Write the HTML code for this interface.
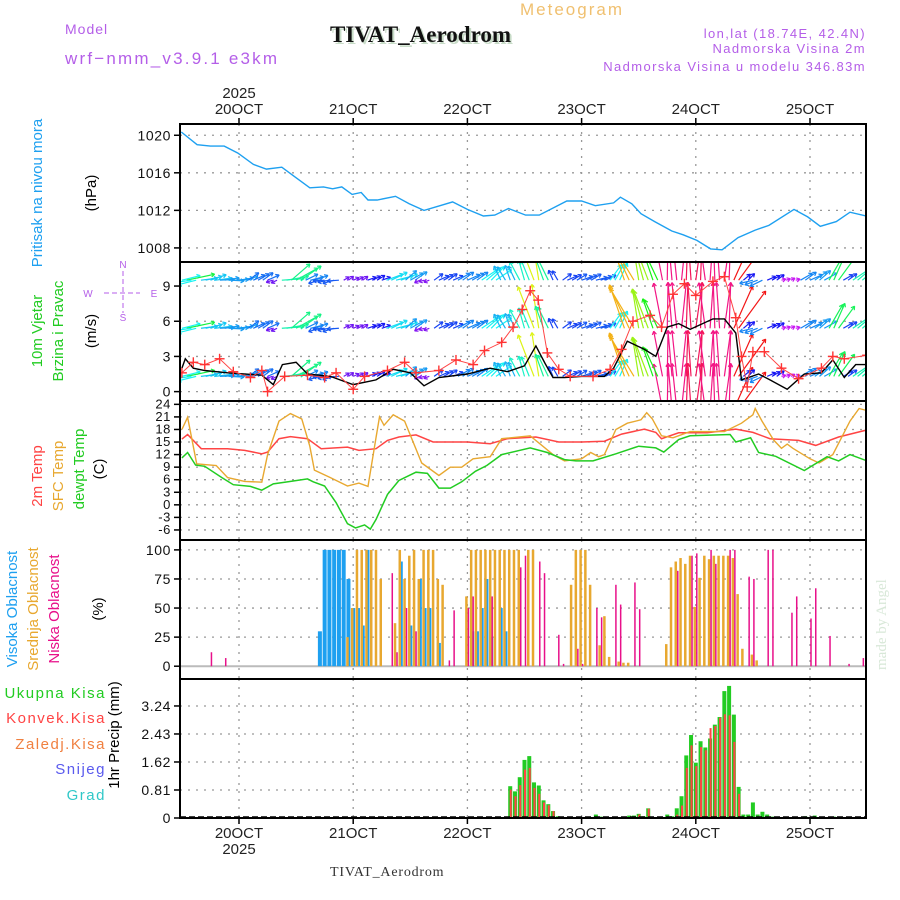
<!DOCTYPE html>
<html><head><meta charset="utf-8"><style>
html,body{margin:0;padding:0;background:#fff;}
svg{display:block;font-family:"Liberation Sans",sans-serif;}
</style></head><body>
<svg id="c" width="900" height="900" viewBox="0 0 900 900">
<text x="65" y="34" font-size="14" fill="#b45ee8" letter-spacing="1">Model</text>
<text x="65" y="64" font-size="17" fill="#b45ee8" letter-spacing="2.2">wrf−nmm_v3.9.1  e3km</text>
<text x="520" y="15" font-size="17" fill="#f0c070" letter-spacing="2">Meteogram</text>
<text x="332" y="44" font-size="23" font-weight="bold" fill="#c8dcc8" font-family="Liberation Serif,serif">TIVAT_Aerodrom</text>
<text x="330" y="42" font-size="23" font-weight="bold" fill="#111" font-family="Liberation Serif,serif">TIVAT_Aerodrom</text>
<text x="866" y="38" font-size="13" fill="#b45ee8" text-anchor="end" letter-spacing="1.4">lon,lat (18.74E, 42.4N)</text>
<text x="866" y="53" font-size="13" fill="#b45ee8" text-anchor="end" letter-spacing="1.4">Nadmorska Visina 2m</text>
<text x="866" y="71" font-size="13" fill="#b45ee8" text-anchor="end" letter-spacing="1.4">Nadmorska Visina u modelu 346.83m</text>
<text x="866" y="650" font-size="15" fill="#d8e8d8" transform="rotate(-90 886 650)" font-family="Liberation Serif,serif">made by Angel</text>
<text x="330" y="876" font-size="14" fill="#333" font-family="Liberation Serif,serif" letter-spacing="0.8">TIVAT_Aerodrom</text>
<g id="g"></g>
</svg>
<script>
// ---------- data ----------
const dayLabels=["20OCT","21OCT","22OCT","23OCT","24OCT","25OCT"];
const presT=[-0.505,-0.367,-0.25,-0.13,-0.01,0.126,0.24,0.375,0.48,0.62,0.74,0.82,0.9,0.99,1.07,1.13,1.21,1.37,1.49,1.62,1.76,1.87,2.0,2.14,2.24,2.36,2.51,2.63,2.87,3.0,3.12,3.28,3.34,3.44,3.52,3.64,3.79,3.89,4.01,4.13,4.23,4.37,4.52,4.64,4.86,4.98,5.09,5.23,5.35,5.49];
const presV=[1020.35,1019.0,1018.85,1018.85,1018.1,1016.9,1016.4,1016.6,1015.65,1014.4,1014.5,1014.3,1014.5,1013.7,1013.9,1013.1,1013.1,1013.5,1012.7,1012.0,1012.5,1012.9,1012.1,1011.4,1011.5,1012.2,1011.5,1011.5,1013.0,1013.0,1012.5,1012.8,1013.4,1012.7,1011.65,1010.8,1009.8,1009.4,1008.8,1007.9,1007.8,1009.1,1009.9,1010.4,1012.1,1011.3,1010.3,1010.8,1011.8,1011.4];
const presTicks=[1008,1012,1016,1020];
const windT=[-0.5,-0.47,-0.4,-0.3,-0.1,0.2,0.3,0.38,0.5,0.6,0.8,1.0,1.2,1.35,1.5,1.62,1.75,2.0,2.2,2.35,2.5,2.6,2.68,2.75,2.85,3.0,3.2,3.28,3.4,3.55,3.65,3.75,3.85,3.95,4.15,4.25,4.35,4.4,4.55,4.65,4.8,4.95,5.1,5.2,5.3,5.4,5.5];
const windSpd=[2.0,2.8,2.0,1.8,1.6,1.4,0.6,2.3,2.5,1.5,1.3,0.6,1.0,1.9,1.6,0.5,1.2,1.5,2.0,1.7,2.2,3.9,2.4,1.2,1.2,1.3,1.3,2.0,4.3,3.6,3.0,5.5,5.8,5.3,6.2,6.2,5.0,1.0,1.5,1.0,0.2,1.5,1.6,2.7,1.2,2.3,2.3];
const windDir=[20,30,200,25,15,30,200,10,35,20,190,30,25,20,35,200,30,30,40,115,112,105,110,120,30,25,20,60,115,105,115,95,90,88,92,88,60,40,200,30,20,30,35,60,30,40,35];
const gustT=[-0.5,-0.4,-0.3,-0.17,-0.05,0.1,0.2,0.25,0.4,0.6,0.75,0.85,1.0,1.1,1.3,1.45,1.55,1.75,1.9,2.05,2.15,2.3,2.4,2.48,2.55,2.62,2.7,2.8,2.9,3.1,3.25,3.35,3.45,3.6,3.7,3.8,3.9,4.0,4.15,4.25,4.35,4.4,4.45,4.5,4.6,4.75,4.9,5.1,5.2,5.3,5.5];
const gustV=[1.6,2.5,2.3,2.8,1.7,1.2,1.8,0,1.3,1.4,1.2,1.6,0.2,1.3,1.8,2.5,1.6,1.8,2.7,2.3,3.5,4.2,5.5,7.0,8.6,7.8,3.3,1.9,1.3,1.3,1.9,3.6,6.0,6.5,5.5,8.3,9.2,8.2,9.4,9.8,6.3,3.0,0.4,3.4,3.4,2.0,1.1,2.0,3.0,2.8,3.1];
const windTicks=[0,3,6,9];
const tempTicks=[-6,-3,0,3,6,9,12,15,18,21,24];
const t2T=[-0.5,-0.45,-0.33,-0.1,0.05,0.2,0.25,0.35,0.45,0.6,0.72,0.95,1.05,1.2,1.3,1.4,1.55,1.7,2.0,2.2,2.35,2.6,2.8,3.0,3.2,3.35,3.55,3.65,3.7,3.85,4.1,4.35,4.5,4.65,4.9,5.05,5.25,5.5];
const t2V=[15.7,16.8,13.4,13.4,13.0,12.2,12.6,15.8,16.3,15.8,13.4,13.8,13.0,13.4,15.4,16.2,16.7,15.0,15.0,14.6,15.8,16.2,15.0,15.0,15.2,16.9,18.1,17.3,15.8,17.2,17.2,18.1,17.3,15.8,15.4,14.2,16.2,17.9];
const sfcT=[-0.5,-0.45,-0.37,-0.3,-0.2,-0.1,0.05,0.2,0.25,0.35,0.45,0.55,0.62,0.66,0.8,0.95,1.05,1.13,1.2,1.23,1.27,1.35,1.45,1.6,1.75,1.85,1.95,2.05,2.2,2.3,2.55,2.75,2.85,3.0,3.08,3.15,3.2,3.3,3.4,3.52,3.57,3.62,3.7,3.8,3.95,4.25,4.4,4.5,4.52,4.58,4.68,4.75,4.8,4.85,5.0,5.08,5.2,5.35,5.43,5.5];
const sfcV=[18,20.9,9.8,9.6,9.4,6.5,5.6,5.4,12,20,21.8,20.5,14,8.3,6.5,4.5,5.2,4.4,16,21,19,21.5,20,10,7,9,9,11,11.5,15.8,16.5,12,10.5,11,12.5,11.5,12,18,19.5,20.3,22,20.5,16.5,16,17.5,17.5,19.5,21.5,23,20,15.5,13.5,14.5,13.5,11,10,12,20,23,22.5];
const dewT=[-0.5,-0.45,-0.38,-0.3,-0.15,-0.05,0.1,0.2,0.3,0.4,0.6,0.65,0.75,0.85,0.95,1.02,1.1,1.15,1.2,1.3,1.4,1.55,1.65,1.75,1.85,1.95,2.07,2.17,2.3,2.55,2.7,2.85,2.95,3.1,3.3,3.5,3.65,3.72,3.85,3.95,4.3,4.35,4.48,4.55,4.7,4.95,5.15,5.25,5.35,5.5];
const dewV=[11.2,12.5,9.5,9.2,6.5,4.8,4.4,3.5,5.0,5.4,6.2,5.5,4.5,0.5,-4.5,-5.5,-4.8,-5.8,-3.5,2.5,5.8,7.8,7.5,4.0,4.0,5.5,8.0,9.4,12.0,13.6,12.5,10.8,10.5,10.5,12.2,14.0,13.6,12.6,15.6,16.5,16.8,15.0,16.0,12.5,11.6,8.2,11.5,10.5,12.0,10.5];
const cloudTicks=[0,25,50,75,100];
const highH=[17,18,19,20,21,22,23,24,25,26,27,34,36,38,39,40,42,49,50,51,52,53,55,56];
const highV=[30,100,100,100,100,100,75,50,50,35,100,90,35,75,50,50,20,30,30,50,75,25,50,30];
const midH=[23,24,25,26,27,28,29,30,33,34,35,36,37,38,39,40,41,42,43,48,49,50,51,52,53,54,55,56,57,58,59,61,62,70,71,72,73,74,76,77,78,80,81,82,90,91,92,93,94,95,96,97,98,99,100,101,102,103,104,105,106,108,109];
const midV=[25,50,100,100,100,100,100,75,37,100,75,95,100,75,100,100,100,75,70,60,100,100,100,100,100,100,100,100,100,100,100,100,100,70,100,100,100,70,18,43,8,4,3,3,19,85,90,93,88,95,51,76,95,92,95,95,95,95,93,62,15,10,5];
const lowH=[-6,-3,32,33,35,37,44,45,48,49,53,59,60,63,64,67,68,71,72,75,76,79,80,83,84,92,95,96,99,100,103,104,107,108,111,112,116,117,120,121,124,128,131,132];
const lowV=[12,7,80,12,50,30,5,48,50,60,60,85,95,90,80,27,2,15,2,50,42,70,53,72,49,82,95,97,100,88,100,100,77,75,100,100,46,60,41,67,26,2,7,7];
const precTicks=[0,0.81,1.62,2.43,3.24];
const totH=[49,57,58,59,60,61,62,63,64,65,66,67,75,76,82,83,84,85,86,90,91,92,93,94,95,96,97,98,99,100,101,102,103,104,105,106,107,108,109,110,111,112,119,121,125];
const totV=[0.03,0.92,0.77,1.18,1.68,1.79,1.03,0.94,0.51,0.4,0.2,0.05,0.1,0.04,0.07,0.07,0.12,0.05,0.28,0.1,0.05,0.28,0.63,1.81,2.4,1.6,2.22,2.04,2.3,2.7,2.92,3.67,3.82,2.99,0.9,0.1,0.1,0.45,0.1,0.18,0.1,0.04,0.05,0.07,0.04];
const convH=[57,58,59,60,61,62,63,64,65,66,84,86,92,93,94,95,96,97,98,99,100,101,102,103,104,105];
const convV=[0.82,0.63,0.95,1.4,1.45,0.87,0.7,0.45,0.37,0.2,0.1,0.27,0.1,0.36,1.45,2.1,1.5,2.05,1.96,2.6,2.66,2.9,3.0,2.97,2.2,0.7];

// ---------- layout ----------
const NS="http://www.w3.org/2000/svg";
const G=document.getElementById('g');
const L=180,R=866,DX=114.2,X0=239;
const X=d=>X0+d*DX;
const XH=h=>X(h/24);
function el(tag,attrs,parent){const e=document.createElementNS(NS,tag);for(const k in attrs)e.setAttribute(k,attrs[k]);(parent||G).appendChild(e);return e;}
const panels=[
 {top:124,bot:262,lo:1006.5,hi:1021.2,name:'pressure'},
 {top:262,bot:401,lo:-0.8,hi:11.05,name:'wind'},
 {top:401,bot:540,lo:-8.4,hi:24.8,name:'temperature'},
 {top:540,bot:679,lo:-11,hi:108.5,name:'cloud'},
 {top:679,bot:818,lo:0,hi:4.02,name:'precip'}];
function Y(p,v){return p.bot-(v-p.lo)/(p.hi-p.lo)*(p.bot-p.top);}
panels.forEach((p,i)=>{
  const cp=el('clipPath',{id:'cp'+i});
  el('rect',{x:L,y:p.top,width:R-L,height:p.bot-p.top},cp);
  for(let d=0;d<6;d++){
    const v=el('line',{x1:X(d),x2:X(d),y1:p.top,y2:p.bot,stroke:'#999','stroke-width':1.3,'stroke-dasharray':'2 6'});
    
    
  }
});
function hgrid(p,ticks,fmt,fs,dy){
  ticks.forEach(t=>{
    const y=Y(p,t);
    const l=el('line',{x1:L,x2:R,y1:y,y2:y,stroke:'#999','stroke-width':1.3,'stroke-dasharray':'2 6'});
    
    
    el('line',{x1:L-6,x2:L,y1:y,y2:y,stroke:'#000','stroke-width':1.5});
    const tx=el('text',{x:L-9,y:y+(dy||5),'text-anchor':'end','font-size':fs||14,fill:'#111','letter-spacing':'0.6'});
    tx.textContent=fmt?fmt(t):t;
    
    
  });
}
hgrid(panels[0],presTicks);
hgrid(panels[1],windTicks);
hgrid(panels[2],tempTicks,null,13,4);
hgrid(panels[3],cloudTicks);
hgrid(panels[4],precTicks,t=>t===0?'0':t.toFixed(2));
function line(p,ts,vs,color,w,name,clip){
  const pts=ts.map((t,i)=>X(t).toFixed(1)+','+Y(p,vs[i]).toFixed(1)).join(' ');
  const e=el('polyline',{points:pts,fill:'none',stroke:color,'stroke-width':w||1.3,'clip-path':'url(#cp'+clip+')'});
  
  
  return e;
}
// pressure
line(panels[0],presT,presV,'#1ea0f0',1.4,'pressure-line',0);
// wind arrows (hourly, each using the nearest wind sample)
const pw=panels[1];
const rows=[-1.5,1.3,5.4,9.5];
function nearest(t){let b=0;for(let i=1;i<windT.length;i++)if(Math.abs(windT[i]-t)<Math.abs(windT[b]-t))b=i;return b;}
rows.forEach((base,ri)=>{
  for(let h=-12;h<=131;h++){
    const i=nearest(h/24);
    const s=windSpd[i];
    if(ri===0&&s<5)continue;
    const len=4+42*Math.pow(Math.min(s,4)/4,1.5);
    const a=(windDir[i]+((h%3)-1)*6)*Math.PI/180;
    const x1=XH(h),y1=Y(pw,base);
    const x2=x1+Math.cos(a)*len,y2=y1-Math.sin(a)*len;
    const hue=(Math.max(300-s*60,-30)+360)%360;
    const col='hsl('+hue+',90%,52%)';
    const g=el('g',{stroke:col,'stroke-width':1.2,'clip-path':'url(#cp1)'});
    
    
    el('line',{x1:x1,y1:y1,x2:x2,y2:y2},g);
    const hl=4;
    [a+2.6,a-2.6].forEach(b=>el('line',{x1:x2,y1:y2,x2:x2+Math.cos(b)*hl,y2:y2-Math.sin(b)*hl},g));
  }
});
line(pw,windT,windSpd,'#000',1.4,'wind-speed-line',1);
line(pw,gustT,gustV,'#f44',1,'gust-line',1);
gustT.forEach((t,i)=>{
  const x=X(t),y=Y(pw,gustV[i]);
  const g=el('g',{stroke:'#f33','stroke-width':1.4,'clip-path':'url(#cp1)'});
  
  
  el('line',{x1:x-5,x2:x+5,y1:y,y2:y},g);el('line',{x1:x,x2:x,y1:y-5,y2:y+5},g);
});
// temperature
line(panels[2],t2T,t2V,'#f44',1.5,'temp-2m-line',2);
line(panels[2],sfcT,sfcV,'#e8a830',1.4,'temp-sfc-line',2);
line(panels[2],dewT,dewV,'#22cc22',1.5,'dewpoint-line',2);
// cloud
const pc=panels[3];
el('line',{x1:L,x2:R,y1:Y(pc,0),y2:Y(pc,0),stroke:'#bbb','stroke-width':2});
function bars(p,hs,vs,color,w,off,name,clip){
  hs.forEach((h,i)=>{
    const y=Y(p,vs[i]),y0=Y(p,0);
    const r=el('rect',{x:XH(h)+off-w/2,y:y,width:w,height:Math.max(0,y0-y),fill:color,'clip-path':'url(#cp'+clip+')'});
    
    
  });
}
bars(pc,highH,highV,'#1ea0f0',4,0,'high-cloud-bar',3);
bars(pc,midH,midV,'#e8a830',2.5,-1,'mid-cloud-bar',3);
bars(pc,lowH,lowV,'#e8108a',1.5,1,'low-cloud-bar',3);
// precip
const pp=panels[4];
bars(pp,totH,totV,'#22cc22',4,0,'total-precip-bar',4);
bars(pp,convH,convV,'#f44',2,0.5,'convective-precip-bar',4);
el('line',{x1:L,x2:R,y1:pp.bot-1,y2:pp.bot-1,stroke:'#000','stroke-width':1.5,'stroke-dasharray':'6 3'});
// frames
panels.forEach(p=>{const r=el('rect',{x:L,y:p.top,width:R-L,height:p.bot-p.top,fill:'none',stroke:'#000','stroke-width':2});
 });
// x labels
dayLabels.forEach((lab,d)=>{
  el('line',{x1:X(d),x2:X(d),y1:118,y2:124,stroke:'#000','stroke-width':1.5});
  el('line',{x1:X(d),x2:X(d),y1:818,y2:824,stroke:'#000','stroke-width':1.5});
  const t=el('text',{x:X(d),y:114,'text-anchor':'middle','font-size':15,fill:'#222'});t.textContent=lab;
  
  const b=el('text',{x:X(d),y:838,'text-anchor':'middle','font-size':15,fill:'#222'});b.textContent=lab;
  
});
const y1=el('text',{x:X(0),y:98,'text-anchor':'middle','font-size':15,fill:'#222'});y1.textContent='2025';

const y2=el('text',{x:X(0),y:854,'text-anchor':'middle','font-size':15,fill:'#222'});y2.textContent='2025';

// vertical axis titles
function vt(x,y,txt,col,fs,name){const t=el('text',{x:x,y:y,'text-anchor':'middle','font-size':fs||14,fill:col,transform:'rotate(-90 '+x+' '+y+')'});t.textContent=txt;
 }
vt(42,193,'Pritisak na nivou mora','#1ea0f0',15,'pressure-title');
vt(96,193,'(hPa)','#000',15,'pressure-unit');
vt(42,331,'10m Vjetar','#22cc22',15,'wind-title-1');
vt(63,331,'Brzina i Pravac','#22cc22',15,'wind-title-2');
vt(96,331,'(m/s)','#000',15,'wind-unit');
vt(42,476,'2m Temp','#f44',15,'temp-2m-title');
vt(63,476,'SFC Temp','#e8a830',15,'temp-sfc-title');
vt(84,469,'dewpt Temp','#22cc22',15,'dewpoint-title');
vt(104,469,'(C)','#000',15,'temp-unit');
vt(17,609,'Visoka Oblacnost','#1ea0f0',15,'high-cloud-title');
vt(38,609,'Srednja Oblacnost','#e8a830',15,'mid-cloud-title');
vt(59,609,'Niska Oblacnost','#e8108a',15,'low-cloud-title');
vt(103,609,'(%)','#000',15,'cloud-unit');
vt(119,735,'1hr Precip (mm)','#000',15,'precip-title');
[['Ukupna Kisa','#22cc22',698],['Konvek.Kisa','#f44',723],['Zaledj.Kisa','#f08040',749],['Snijeg','#5a5aee',774],['Grad','#30c8c8',800]].forEach(a=>{
  const t=el('text',{x:106,y:a[2],'text-anchor':'end','font-size':15,fill:a[1],'letter-spacing':'1.5'});t.textContent=a[0];
  });
// compass
const cg=el('g',{fill:'#b45ee8','font-size':10});

[['N',123,268],['E',154,297],['W',88,297],['S',123,321]].forEach(a=>{const t=el('text',{x:a[1],y:a[2],'text-anchor':'middle'},cg);t.textContent=a[0];});
el('line',{x1:104,x2:140,y1:293,y2:293,stroke:'#b45ee8','stroke-dasharray':'5 3'},cg);
el('line',{x1:123,x2:123,y1:271,y2:313,stroke:'#b45ee8','stroke-dasharray':'5 3'},cg);
</script>
</body></html>
